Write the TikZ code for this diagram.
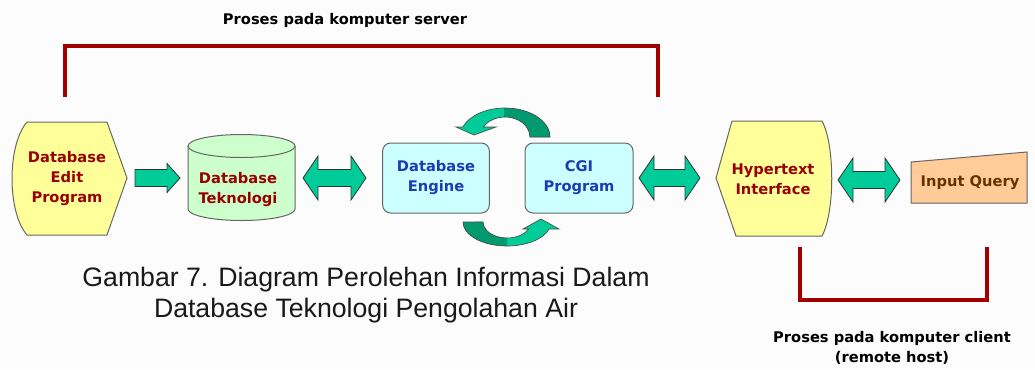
\documentclass[tikz,border=0pt]{standalone}
\usepackage{fontspec}
\setmainfont{Liberation Sans}
\newfontfamily\comicfont{DejaVu Sans}
\usepackage{xcolor}
\definecolor{bracketred}{HTML}{A00000}
\definecolor{labelred}{HTML}{990000}
\definecolor{labelblue}{HTML}{1A3CB4}
\definecolor{labelbrown}{HTML}{663300}
\definecolor{editfill}{HTML}{FFFF99}
\definecolor{cylfill}{HTML}{CCFFCC}
\definecolor{boxfill}{HTML}{CCFFFF}
\definecolor{queryfill}{HTML}{FFCC99}
\definecolor{arrowlight}{HTML}{00CC99}
\definecolor{arrowdark}{HTML}{009970}
\definecolor{edgegray}{HTML}{666666}
\definecolor{paper}{HTML}{FCFCFC}
\usetikzlibrary{calc,positioning}

% block arrow with two heads, from #1 (left tip) to #2 (right tip)
\newcommand{\dblblock}[2]{%
  \draw[blockarrow] (#1) -- ++(15,-22) -- ++(0,13.5) -- ($(#2)+(-15,-8.5)$)
    -- ++(0,-13.5) -- (#2) -- ++(-15,22) -- ++(0,-13.5)
    -- ($(#1)+(15,8.5)$) -- ++(0,13.5) -- cycle;}

% block arrow with one head, from #1 (tail) to #2 (tip)
\newcommand{\oneblock}[2]{%
  \draw[blockarrow] (#1) -- ++(0,-8.5) -- ($(#2)+(-13,-8.5)$) -- ++(0,-6)
    -- (#2) -- ++(-13,14.5) -- ++(0,-6) -- ($(#1)+(0,8.5)$) -- cycle;}

% the two curved arrows round the engine and the CGI program
\newcommand{\toploop}{(550,137) arc[start angle=0,end angle=-160,x radius=45,y radius=29]
  -- (456,127) -- (474,135) -- (496,127) -- (483.3,127)
  arc[start angle=-150,end angle=0,x radius=25,y radius=20] -- cycle}
\newcommand{\botloop}{(463,222) arc[start angle=180,end angle=17,x radius=44,y radius=24]
  -- (559,229) -- (541,219) -- (523,229) -- (528.6,229)
  arc[start angle=26,end angle=180,x radius=24,y radius=16] -- cycle}

\begin{document}
\begin{tikzpicture}[
  x=0.75pt,
  y=-0.75pt,
  bracket/.style={line width=3pt,bracketred,line join=miter},
  blockarrow/.style={fill=arrowlight,draw=black!80,line width=0.6pt,line join=miter},
  loopedge/.style={draw=black!70,line width=0.5pt},
  shapeedge/.style={draw=edgegray,line width=0.75pt},
  labeltext/.style={
    font=\comicfont\bfseries\fontsize{11}{15}\selectfont,
    align=center,
    inner sep=0pt
  },
  procbox/.style={
    labeltext,
    fill=boxfill,
    draw=edgegray,
    line width=0.75pt,
    rounded corners=6pt,
    minimum width=80pt,
    minimum height=52.5pt,
    text=labelblue
  }
]

% Paper
\fill[paper] (0,0) rectangle (1035,369);
\useasboundingbox (0,0) rectangle (1035,369);

% Server bracket
\node[labeltext] (server) at (345,20) {Proses pada komputer server};
\draw[bracket] (65,97) -- (65,46) -- (658,46) -- (658,97);

% Database edit program
\filldraw[shapeedge,fill=editfill] (27,122) -- (107,122) -- (127,178) -- (107,235)
  -- (27,235) .. controls (7,212) and (7,145) .. cycle;
\node[labeltext,text=labelred] (dbedit) at (67,179) {Database\\Edit\\Program};

% Database teknologi (cylinder)
\fill[cylfill] (188,146) -- (188,209)
  arc[start angle=180,end angle=0,x radius=53.5,y radius=11.5] -- (295,146) -- cycle;
\draw[shapeedge] (188,146) -- (188,209)
  arc[start angle=180,end angle=0,x radius=53.5,y radius=11.5] -- (295,146);
\filldraw[shapeedge,fill=cylfill] (241.5,146) ellipse[x radius=53.5,y radius=11.5];
\node[labeltext,text=labelred] (dbtek) at (238,190) {Database\\Teknologi};

% Engine and CGI program
\node[procbox] (engine) at (436,178) {Database\\Engine};
\node[procbox,minimum width=81pt] (cgi) at (579,178) {CGI\\Program};

% Hypertext interface
\filldraw[shapeedge,fill=editfill] (732,121) -- (822,121) .. controls (835,145) and (835,212) .. (822,236)
  -- (736,236) -- (716,178) -- cycle;
\node[labeltext,text=labelred] (hyper) at (773,179) {Hypertext\\Interface};

% Input query
\filldraw[shapeedge,fill=queryfill] (911,162) -- (1027,152) -- (1027,203) -- (911,203) -- cycle;
\node[labeltext,text=labelbrown] (query) at (970,183) {Input Query};

% Arrow tips
\coordinate (editE) at (135,178);
\coordinate (tekW)  at (180,178);
\coordinate (tekE)  at (303,178);
\coordinate (engW)  at (366,178);
\coordinate (cgiE)  at (639,178);
\coordinate (hypW)  at (700,178);
\coordinate (hypE)  at (838,180);
\coordinate (qryW)  at (900,180);

% Block arrows
\oneblock{editE}{tekW}
\dblblock{tekE}{engW}
\dblblock{cgiE}{hypW}
\dblblock{hypE}{qryW}

% Curved arrows
\fill[arrowlight] \toploop;
\begin{scope}
  \clip (504,90) rectangle (560,140);
  \fill[arrowdark] \toploop;
\end{scope}
\draw[loopedge] \toploop;

\fill[arrowlight] \botloop;
\begin{scope}
  \clip (450,215) rectangle (507,255);
  \fill[arrowdark] \botloop;
\end{scope}
\draw[loopedge] \botloop;

% Client bracket
\draw[bracket] (800,247) -- (800,300) -- (987,300) -- (987,247);
\node[labeltext,font=\comicfont\bfseries\fontsize{11}{15}\selectfont] (client) at (892,348)
  {Proses pada komputer client\\(remote host)};

% Caption
\node[align=center,inner sep=0pt,text=black!90,font=\fontsize{20}{23.25}\selectfont] (caption) at (366,294.6)
  {Gambar 7. Diagram Perolehan Informasi Dalam\\Database Teknologi Pengolahan Air};
\end{tikzpicture}
\end{document}
